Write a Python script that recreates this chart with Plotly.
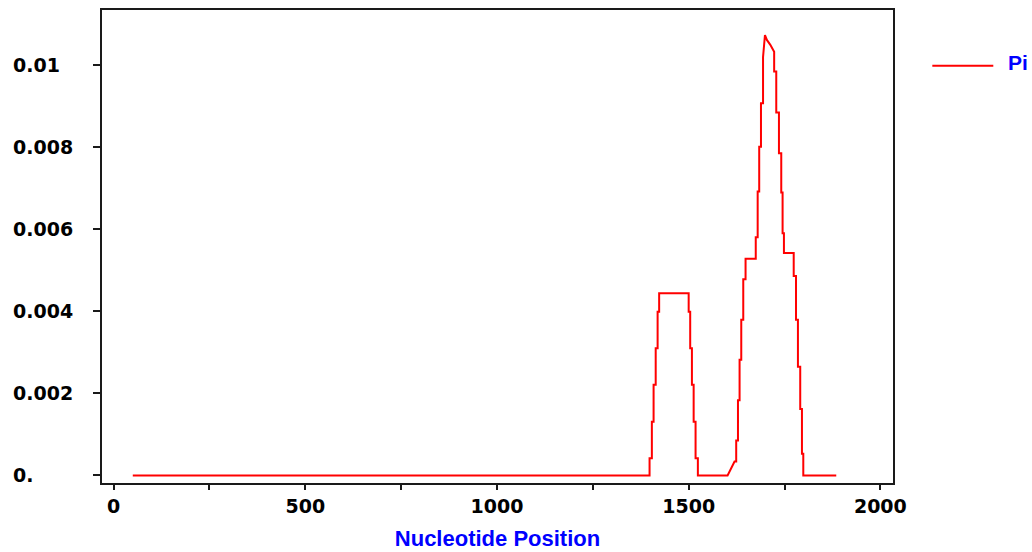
import plotly.graph_objects as go

# Sliding-window nucleotide diversity (Pi).
# Vertical jumps are given as two consecutive points at the same position.
positions = [50, 1398, 1398, 1404, 1404, 1408.5, 1408.5, 1414, 1414, 1419, 1419, 1423, 1423,
             1500, 1500, 1504, 1504, 1508.5, 1508.5, 1513, 1513, 1518, 1518, 1524, 1524,
             1601.5, 1619.7, 1624, 1624, 1628.6, 1628.6, 1632.8, 1632.8, 1637.2, 1637.2,
             1642.4, 1642.4, 1648.4, 1648.4, 1675, 1675, 1680, 1680, 1684, 1684, 1688.6, 1688.6,
             1694, 1694, 1699, 1704, 1713, 1723, 1723, 1728.5, 1728.5, 1735.5, 1735.5,
             1741.5, 1741.5, 1745, 1745, 1748.5, 1748.5, 1774, 1774, 1780, 1780, 1785, 1785,
             1791, 1791, 1795.5, 1795.5, 1799, 1799, 1885]
pi_values = [0, 0, 0.00042, 0.00042, 0.00131, 0.00131, 0.00221, 0.00221, 0.00310, 0.00310, 0.00399, 0.00399, 0.00444,
             0.00444, 0.00399, 0.00399, 0.00310, 0.00310, 0.00221, 0.00221, 0.00131, 0.00131, 0.00042, 0.00042, 0,
             0, 0.00034, 0.00034, 0.00085, 0.00085, 0.00183, 0.00183, 0.00282, 0.00282, 0.00379,
             0.00379, 0.00478, 0.00478, 0.00528, 0.00528, 0.00580, 0.00580, 0.00692, 0.00692, 0.00801, 0.00801, 0.00907,
             0.00907, 0.01019, 0.01073, 0.01061, 0.01049, 0.01032, 0.00984, 0.00984, 0.00884, 0.00884, 0.00785,
             0.00785, 0.00689, 0.00689, 0.00590, 0.00590, 0.00542, 0.00542, 0.00486, 0.00486, 0.00379, 0.00379,
             0.00265, 0.00265, 0.00162, 0.00162, 0.00053, 0.00053, 0, 0]

x_ticks = [0, 500, 1000, 1500, 2000]
y_ticks = [0, 0.002, 0.004, 0.006, 0.008, 0.01]
y_tick_labels = ["0.", "0.002", "0.004", "0.006", "0.008", "0.01"]
series_name = "Pi"
x_title = "Nucleotide Position"

AX = "#1a1a1a"
tick_font = dict(family="DejaVu Sans", size=19, color="black", weight="bold")

fig = go.Figure()
fig.add_trace(go.Scatter(x=positions, y=pi_values, mode="lines", name=series_name,
                         line=dict(color="#ff0000", width=2), showlegend=False))

fig.update_layout(
    width=1032, height=552,
    margin=dict(l=102, r=139, t=10, b=69),
    paper_bgcolor="white", plot_bgcolor="white",
    xaxis=dict(range=[-30.3, 2033], tickvals=x_ticks, showgrid=False, zeroline=False,
               automargin=False,
               showline=True, mirror=True, linecolor=AX, linewidth=2,
               ticks="outside", ticklen=5, tickwidth=2, tickcolor=AX,
               tickfont=tick_font,
               minor=dict(dtick=250, tick0=0, ticks="outside", ticklen=5, tickwidth=2,
                          tickcolor=AX, showgrid=False),
               title=dict(text=x_title, standoff=15,
                          font=dict(family="Liberation Sans", size=22, color="#0000ff", weight="bold"))),
    yaxis=dict(range=[-0.000185, 0.011339], tickvals=y_ticks, showticklabels=False,
               showgrid=False, zeroline=False, automargin=False,
               showline=True, mirror=True, linecolor=AX, linewidth=2,
               ticks="outside", ticklen=7, tickwidth=2, tickcolor=AX),
)

# left-aligned y tick labels, placed on the y axis scale
for v, t in zip(y_ticks, y_tick_labels):
    fig.add_annotation(x=-0.1146, xref="paper", y=v, yref="y", text=t, showarrow=False,
                       xanchor="left", yanchor="middle", font=tick_font)

# legend: line sample + label
fig.add_shape(type="line", xref="paper", yref="paper", x0=1.0497, x1=1.1268, y0=0.882, y1=0.882,
              line=dict(color="#ff0000", width=2))
fig.add_annotation(x=1.1424, xref="paper", y=0.888, yref="paper", text=series_name, showarrow=False,
                   xanchor="left", yanchor="middle",
                   font=dict(family="Liberation Sans", size=21, color="#0000ff", weight="bold"))

fig.write_html("out.html")
